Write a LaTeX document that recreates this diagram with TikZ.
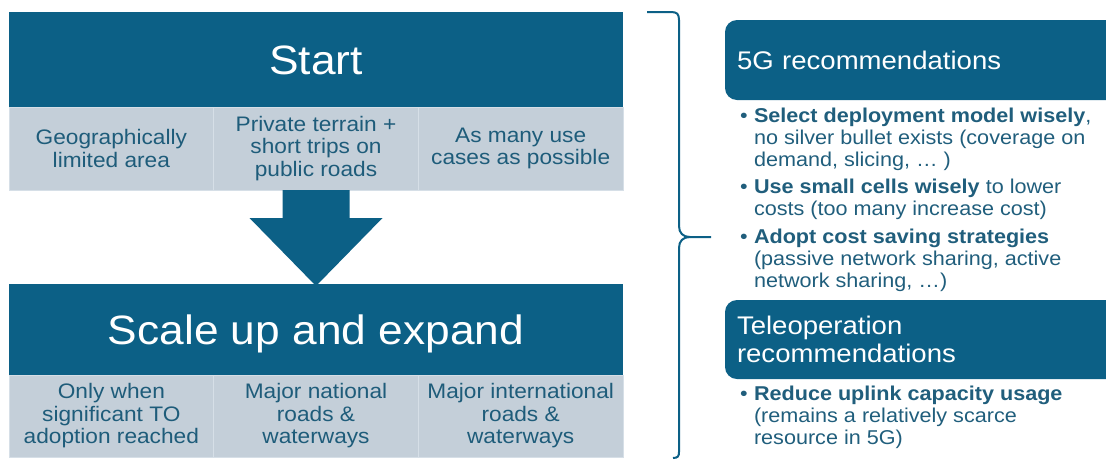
\documentclass[tikz,border=0pt]{standalone}
\usepackage{fontspec}
\setmainfont{Liberation Sans}[FakeStretch=1.08]
\usetikzlibrary{positioning}

\definecolor{hdrblue}{RGB}{12,96,134}
\definecolor{cellgray}{RGB}{196,207,217}
\definecolor{celledge}{RGB}{214,223,231}
\definecolor{celltext}{RGB}{30,92,122}
\definecolor{listtext}{RGB}{32,94,124}

\begin{document}
\begin{tikzpicture}[
  x=1pt, y=-1pt,
  every node/.style={inner sep=0pt, outer sep=0pt},
  header/.style={fill=hdrblue, text=white, minimum width=614pt,
    font=\fontsize{41}{46}\selectfont, text height=29pt, text depth=0pt},
  cell/.style={fill=cellgray, draw=celledge, line width=0.8pt, text=celltext,
    minimum width=204.67pt, align=center, anchor=north west,
    font=\fontsize{21}{22.5}\selectfont},
  rechead/.style={fill=hdrblue, text=white, rounded corners=12pt,
    minimum width=405pt, text width=381pt, inner xsep=12pt, align=left,
    anchor=north west, font=\fontsize{25.5}{28}\selectfont},
  reclist/.style={text=listtext, align=left, anchor=north west,
    font=\fontsize{20}{22}\selectfont},
  brace/.style={draw=hdrblue, line width=2pt}]

  \useasboundingbox (0,0) rectangle (1106,459);

  % ---- start --------------------------------------------------------------
  \node[header, minimum height=95pt] (start) at (316,59.5) {Start};
  \node[cell, minimum height=83pt] (geo) at (start.south west)
    {Geographically\\limited area};
  \node[cell, minimum height=83pt] (private) at (geo.north east)
    {Private terrain +\\short trips on\\public roads};
  \node[cell, minimum height=83pt] (usecases) at (private.north east)
    {As many use\\cases as possible};

  % ---- scale up -----------------------------------------------------------
  \node[header, minimum height=91pt] (scale) at (316,329.5) {Scale up and expand};
  \node[cell, minimum height=82pt] (adopt) at (scale.south west)
    {Only when\\significant TO\\adoption reached};
  \node[cell, minimum height=82pt] (national) at (adopt.north east)
    {Major national\\roads \&\\waterways};
  \node[cell, minimum height=82pt] (internat) at (national.north east)
    {Major international\\roads \&\\waterways};

  % ---- big arrow ----------------------------------------------------------
  \fill[hdrblue] ([xshift=-33.5pt]private.south)
    -- ([xshift=-33.5pt,yshift=-28pt]private.south)
    -- ([xshift=-66.5pt,yshift=-28pt]private.south)
    -- ([yshift=-2pt]scale.north)
    -- ([xshift=66.5pt,yshift=-28pt]private.south)
    -- ([xshift=33.5pt,yshift=-28pt]private.south)
    -- ([xshift=33.5pt]private.south) -- cycle;

  % ---- brace --------------------------------------------------------------
  \draw[brace] (647,12) -- (671,12) .. controls (677,12) and (679,14) .. (679,20)
    -- (679,226) .. controls (679,233) and (683,237) .. (690,237) -- (711,237);
  \draw[brace] (690,237) .. controls (683,237) and (679,241) .. (679,248)
    -- (679,452) .. controls (679,456) and (678,458) .. (673,458);

  % ---- recommendations ----------------------------------------------------
  \node[rechead, minimum height=80pt] (fgbox) at (725,20) {5G recommendations};
  \node[reclist] (fglist) at (740,106.6) {%
    \begin{tabular}{@{}p{14pt}@{}l@{}}
    \textbullet & \textbf{Select deployment model wisely},\\
      & no silver bullet exists (coverage on\\
      & demand, slicing, … )\\[5pt]
    \textbullet & \textbf{Use small cells wisely} to lower\\
      & costs (too many increase cost)\\[6pt]
    \textbullet & \textbf{Adopt cost saving strategies}\\
      & (passive network sharing, active\\
      & network sharing, …)
    \end{tabular}};

  \node[rechead, minimum height=79pt] (tobox) at (725,300)
    {Teleoperation\\recommendations};
  \node[reclist] (tolist) at (740,384.6) {%
    \begin{tabular}{@{}p{14pt}@{}l@{}}
    \textbullet & \textbf{Reduce uplink capacity usage}\\
      & (remains a relatively scarce\\
      & resource in 5G)
    \end{tabular}};
\end{tikzpicture}
\end{document}
